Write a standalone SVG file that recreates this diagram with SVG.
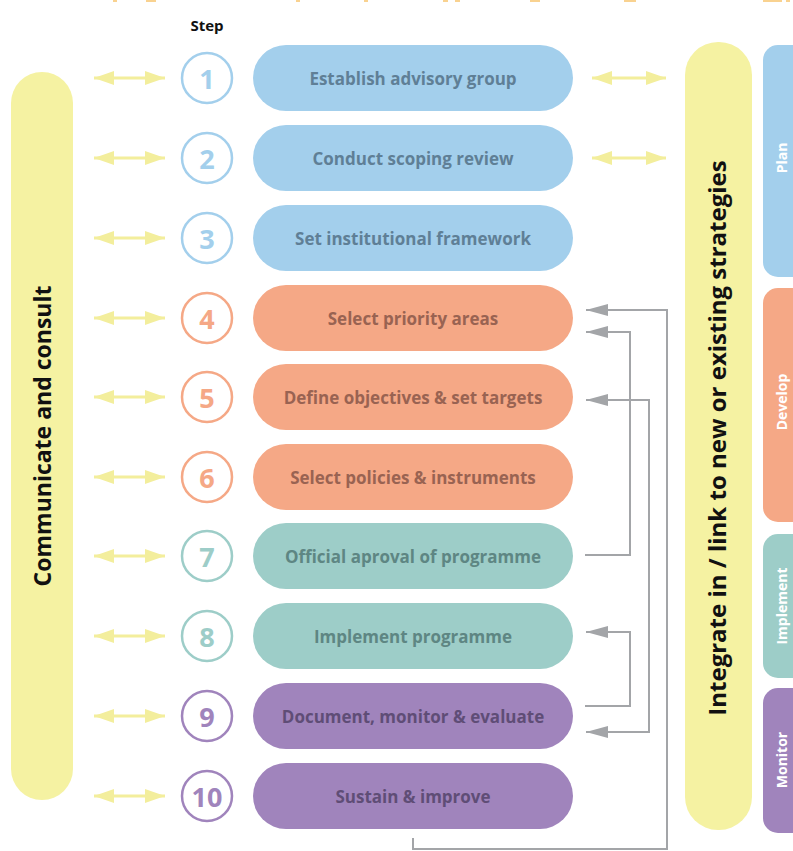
<svg xmlns="http://www.w3.org/2000/svg" width="793" height="851" viewBox="0 0 793 851">
<defs>
<style>
.pill{stroke:none}
.lbl{font-family:"Open Sans","Noto Sans",sans-serif;font-weight:700;font-size:17px;text-anchor:middle;dominant-baseline:central}
.num{font-family:"Open Sans","Noto Sans",sans-serif;font-weight:700;font-size:27px;text-anchor:middle;dominant-baseline:central}
.circ{fill:#fff;stroke-width:2.5}
.big{font-family:"Open Sans","Noto Sans",sans-serif;font-weight:700;fill:#111;text-anchor:middle;dominant-baseline:central}
.ph{font-family:"Open Sans","Noto Sans",sans-serif;font-weight:700;font-size:14px;fill:#fff;text-anchor:middle;dominant-baseline:central}
.ya{stroke:#f3ee9c;stroke-width:3;fill:none}
.gl{stroke:#a3a5a8;stroke-width:2;fill:none}
</style>
<marker id="ys" viewBox="0 0 20 14" refX="20" refY="7" markerWidth="20" markerHeight="14" markerUnits="userSpaceOnUse" orient="auto-start-reverse"><path d="M0,0 L20,7 L0,14 Z" fill="#f3ee9c"/></marker>
<marker id="ga" viewBox="0 0 22 12" refX="22" refY="6" markerWidth="22" markerHeight="12" markerUnits="userSpaceOnUse" orient="auto-start-reverse"><path d="M0,0 L22,6 L0,12 Z" fill="#a3a5a8"/></marker>
</defs>
<rect width="793" height="851" fill="#fff"/>
<g id="top-fragments" fill="#f5a623" opacity="0.5">
<rect x="113" y="0" width="4" height="2"/><rect x="146" y="0" width="10" height="2"/><rect x="296" y="0" width="4" height="2"/><rect x="364" y="0" width="4" height="2"/>
<rect x="443" y="0" width="5" height="2"/><rect x="455" y="0" width="5" height="2"/><rect x="530" y="0" width="10" height="2"/><rect x="624" y="0" width="12" height="2"/><rect x="763" y="0" width="19" height="2"/><rect x="786" y="0" width="4" height="2"/>
</g>
<text x="207" y="25" font-family="Open Sans,Noto Sans,sans-serif" font-weight="700" font-size="15" fill="#111" text-anchor="middle" dominant-baseline="central">Step</text>
<g id="communicate">
<rect x="11" y="72" width="62" height="728" rx="31" fill="#f5f2a2"/>
<text class="big" font-size="23" transform="translate(42,436) rotate(-90)">Communicate and consult</text>
</g>
<g id="integrate">
<rect x="685" y="42" width="67" height="788" rx="33" fill="#f5f2a2"/>
<text class="big" font-size="24" transform="translate(716,438) rotate(-90)">Integrate in / link to new or existing strategies</text>
</g>
<g id="phase-plan"><rect x="763" y="45" width="50" height="232" rx="15" fill="#a3cfec"/><text class="ph" transform="translate(781,158) rotate(-90)">Plan</text></g>
<g id="phase-develop"><rect x="763" y="288" width="50" height="234" rx="15" fill="#f5a886"/><text class="ph" transform="translate(781,402) rotate(-90)">Develop</text></g>
<g id="phase-implement"><rect x="763" y="534" width="50" height="144" rx="15" fill="#9dcdc8"/><text class="ph" transform="translate(781,606) rotate(-90)">Implement</text></g>
<g id="phase-monitor"><rect x="763" y="688" width="50" height="145" rx="15" fill="#a084bc"/><text class="ph" transform="translate(781,760) rotate(-90)">Monitor</text></g>

<g id="step1"><circle class="circ" cx="207" cy="78" r="25" stroke="#a3cfec"/><text class="num" x="207" y="78" fill="#a3cfec">1</text><rect class="pill" x="253" y="45" width="320" height="66" rx="33" fill="#a3cfec"/><text class="lbl" x="413" y="78" fill="#5f7f96">Establish advisory group</text></g>
<g id="step2"><circle class="circ" cx="207" cy="158" r="25" stroke="#a3cfec"/><text class="num" x="207" y="158" fill="#a3cfec">2</text><rect class="pill" x="253" y="125" width="320" height="66" rx="33" fill="#a3cfec"/><text class="lbl" x="413" y="158" fill="#5f7f96">Conduct scoping review</text></g>
<g id="step3"><circle class="circ" cx="207" cy="238" r="25" stroke="#a3cfec"/><text class="num" x="207" y="238" fill="#a3cfec">3</text><rect class="pill" x="253" y="205" width="320" height="66" rx="33" fill="#a3cfec"/><text class="lbl" x="413" y="238" fill="#5f7f96">Set institutional framework</text></g>
<g id="step4"><circle class="circ" cx="207" cy="318" r="25" stroke="#f5a886"/><text class="num" x="207" y="318" fill="#f5a886">4</text><rect class="pill" x="253" y="285" width="320" height="66" rx="33" fill="#f5a886"/><text class="lbl" x="413" y="318" fill="#996352">Select priority areas</text></g>
<g id="step5"><circle class="circ" cx="207" cy="397" r="25" stroke="#f5a886"/><text class="num" x="207" y="397" fill="#f5a886">5</text><rect class="pill" x="253" y="364" width="320" height="66" rx="33" fill="#f5a886"/><text class="lbl" x="413" y="397" fill="#996352">Define objectives &amp; set targets</text></g>
<g id="step6"><circle class="circ" cx="207" cy="477" r="25" stroke="#f5a886"/><text class="num" x="207" y="477" fill="#f5a886">6</text><rect class="pill" x="253" y="444" width="320" height="66" rx="33" fill="#f5a886"/><text class="lbl" x="413" y="477" fill="#996352">Select policies &amp; instruments</text></g>
<g id="step7"><circle class="circ" cx="207" cy="556" r="25" stroke="#9dcdc8"/><text class="num" x="207" y="556" fill="#9dcdc8">7</text><rect class="pill" x="253" y="523" width="320" height="66" rx="33" fill="#9dcdc8"/><text class="lbl" x="413" y="556" fill="#5e8683">Official aproval of programme</text></g>
<g id="step8"><circle class="circ" cx="207" cy="636" r="25" stroke="#9dcdc8"/><text class="num" x="207" y="636" fill="#9dcdc8">8</text><rect class="pill" x="253" y="603" width="320" height="66" rx="33" fill="#9dcdc8"/><text class="lbl" x="413" y="636" fill="#5e8683">Implement programme</text></g>
<g id="step9"><circle class="circ" cx="207" cy="716" r="25" stroke="#a084bc"/><text class="num" x="207" y="716" fill="#a084bc">9</text><rect class="pill" x="253" y="683" width="320" height="66" rx="33" fill="#a084bc"/><text class="lbl" x="413" y="716" fill="#5f4d76">Document, monitor &amp; evaluate</text></g>
<g id="step10"><circle class="circ" cx="207" cy="796" r="25" stroke="#a084bc"/><text class="num" x="207" y="796" fill="#a084bc">10</text><rect class="pill" x="253" y="763" width="320" height="66" rx="33" fill="#a084bc"/><text class="lbl" x="413" y="796" fill="#5f4d76">Sustain &amp; improve</text></g>

<g id="connectors">
<path class="ya" d="M94,78 H165" marker-start="url(#ys)" marker-end="url(#ys)"/>
<path class="ya" d="M94,158 H165" marker-start="url(#ys)" marker-end="url(#ys)"/>
<path class="ya" d="M94,238 H165" marker-start="url(#ys)" marker-end="url(#ys)"/>
<path class="ya" d="M94,318 H165" marker-start="url(#ys)" marker-end="url(#ys)"/>
<path class="ya" d="M94,397 H165" marker-start="url(#ys)" marker-end="url(#ys)"/>
<path class="ya" d="M94,477 H165" marker-start="url(#ys)" marker-end="url(#ys)"/>
<path class="ya" d="M94,556 H165" marker-start="url(#ys)" marker-end="url(#ys)"/>
<path class="ya" d="M94,636 H165" marker-start="url(#ys)" marker-end="url(#ys)"/>
<path class="ya" d="M94,716 H165" marker-start="url(#ys)" marker-end="url(#ys)"/>
<path class="ya" d="M94,796 H165" marker-start="url(#ys)" marker-end="url(#ys)"/>
<path class="ya" d="M592,78 H666" marker-start="url(#ys)" marker-end="url(#ys)"/>
<path class="ya" d="M592,158 H666" marker-start="url(#ys)" marker-end="url(#ys)"/>
<path class="gl" d="M413,838 V849 H667 V310 H586" marker-end="url(#ga)"/>
<path class="gl" d="M585,555 H630 V332 H586" marker-end="url(#ga)"/>
<path class="gl" d="M586,400 H649 V732 H586" marker-start="url(#ga)" marker-end="url(#ga)"/>
<path class="gl" d="M585,706 H630 V632 H586" marker-end="url(#ga)"/>
</g>
</svg>
